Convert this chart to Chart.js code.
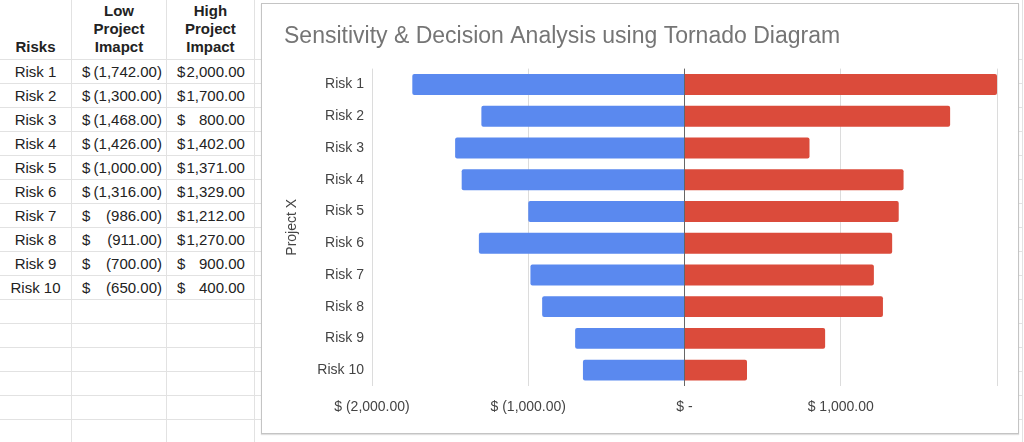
<!DOCTYPE html>
<html>
<head>
<meta charset="utf-8">
<script src="https://cdn.jsdelivr.net/npm/chart.js@4"></script>
<style>
  html, body { margin: 0; padding: 0; width: 1024px; height: 442px; overflow: hidden; background: #fff; font-family: Arial, 'Liberation Sans', sans-serif; }
  #sheet { position: absolute; left: -1px; top: -1px; border-collapse: collapse; table-layout: fixed; font-size: 15px; color: #222; }
  #sheet td, #sheet th { border: 1px solid #e2e2e2; padding: 0; height: 23px; overflow: hidden; white-space: nowrap; }
  #sheet th { height: 60px; font-weight: bold; text-align: center; vertical-align: bottom; line-height: 18px; padding-bottom: 3px; box-sizing: border-box; }
  #sheet td.name { text-align: center; }
  .acct { display: flex; justify-content: space-between; padding: 0 4px 0 10px; }
  .hide { visibility: hidden; }
  #box { position: absolute; left: 261px; top: 3px; width: 758px; height: 431px; box-sizing: border-box; border: 1px solid #c4c4c4; background: #fff; box-shadow: 0 1px 1px rgba(0,0,0,0.12); }
  #box canvas { display: block; }
</style>
</head>
<body>
<table id="sheet">
  <colgroup><col style="width:73px"><col style="width:95px"><col style="width:88px"><col style="width:800px"></colgroup>
  <thead>
    <tr><th>Risks</th><th>Low<br>Project<br>Imapct</th><th>High<br>Project<br>Impact</th><th></th></tr>
  </thead>
  <tbody id="rows"></tbody>
</table>
<div id="box"><canvas id="tornado" width="756" height="429"></canvas></div>
<script>
const risks = ['Risk 1', 'Risk 2', 'Risk 3', 'Risk 4', 'Risk 5', 'Risk 6', 'Risk 7', 'Risk 8', 'Risk 9', 'Risk 10'];
const lowImpact = [-1742, -1300, -1468, -1426, -1000, -1316, -986, -911, -700, -650];
const highImpact = [2000, 1700, 800, 1402, 1371, 1329, 1212, 1270, 900, 400];
const xTicks = [-2000, -1000, 0, 1000, 2000];

// accounting style like the sheet: $ on the left, (negatives) in brackets
function money(v) {
  const s = Math.abs(v).toLocaleString('en-US', { minimumFractionDigits: 2, maximumFractionDigits: 2 });
  return v < 0 ? '(' + s + ')' : s;
}
function acctCell(v) {
  const tail = v < 0 ? '' : '<span class="hide">)</span>';
  return '<td><div class="acct"><span>$</span><span>' + money(v) + tail + '</span></div></td>';
}

const body = document.getElementById('rows');
let html = '';
risks.forEach((r, i) => {
  html += '<tr><td class="name">' + r + '</td>' + acctCell(lowImpact[i]) + acctCell(highImpact[i]) + '<td></td></tr>';
});
for (let i = 0; i < 6; i++) html += '<tr><td></td><td></td><td></td><td></td></tr>';
body.innerHTML = html;

const font = "Arial, 'Liberation Sans', sans-serif";

new Chart(document.getElementById('tornado'), {
  type: 'bar',
  data: {
    labels: risks,
    datasets: [
      {
        label: 'Low Project Imapct',
        data: lowImpact,
        backgroundColor: '#5a89ef',
        borderRadius: 2,
        barPercentage: 0.66,
        categoryPercentage: 1
      },
      {
        label: 'High Project Impact',
        data: highImpact,
        backgroundColor: '#db4b3b',
        borderRadius: 2,
        barPercentage: 0.66,
        categoryPercentage: 1
      }
    ]
  },
  options: {
    indexAxis: 'y',
    responsive: false,
    animation: false,
    layout: { padding: { left: 22, right: 21, top: 0, bottom: 0 } },
    plugins: {
      legend: { display: false },
      tooltip: { enabled: false },
      title: {
        display: true,
        text: 'Sensitivity & Decision Analysis using Tornado Diagram',
        align: 'start',
        color: '#757575',
        font: { family: font, size: 23, weight: 'normal' },
        padding: { top: 19, bottom: 18 }
      }
    },
    scales: {
      x: {
        stacked: true,
        min: xTicks[0],
        max: xTicks[xTicks.length - 1],
        afterBuildTicks: scale => { scale.ticks = xTicks.map(v => ({ value: v })); },
        afterFit: scale => { scale.height = 47; },
        border: { display: false },
        grid: {
          drawTicks: false,
          color: ctx => ctx.tick && ctx.tick.value === 0 ? '#666666' : '#dcdcdc'
        },
        ticks: {
          padding: 13,
          color: '#444',
          font: { family: font, size: 14 },
          maxRotation: 0,
          callback: v => {
            if (v === xTicks[xTicks.length - 1]) return '';
            if (v === 0) return '$ -';
            return '$ ' + money(v);
          }
        }
      },
      y: {
        stacked: true,
        afterFit: scale => { scale.width = 88; },
        border: { display: false },
        grid: { display: false, drawTicks: false },
        ticks: { padding: 8, color: '#444', font: { family: font, size: 14 } },
        title: {
          display: true,
          text: 'Project X',
          color: '#444',
          font: { family: font, size: 14 },
          padding: { top: 0, bottom: 0 }
        }
      }
    }
  }
});
</script>
</body>
</html>
